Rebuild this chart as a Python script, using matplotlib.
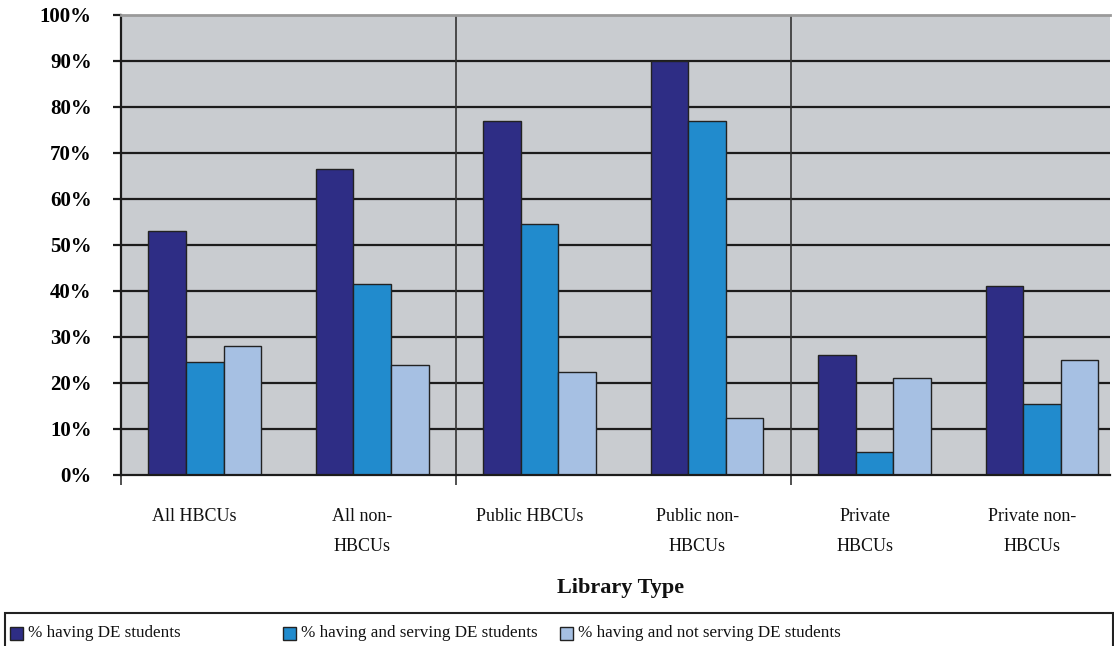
import numpy as np
import matplotlib
matplotlib.use("Agg")
import matplotlib.pyplot as plt
from matplotlib.patches import Rectangle
import matplotlib.transforms as mtransforms

categories = ["All HBCUs", "All non-\nHBCUs", "Public HBCUs", "Public non-\nHBCUs",
              "Private\nHBCUs", "Private non-\nHBCUs"]
series_names = ["% having DE students", "% having and serving DE students",
                "% having and not serving DE students"]
having = [53, 66.5, 77, 90, 26, 41]
serving = [24.5, 41.5, 54.5, 77, 5, 15.5]
not_serving = [28, 24, 22.5, 12.5, 21, 25]
yticks = [0, 10, 20, 30, 40, 50, 60, 70, 80, 90, 100]
ytick_labels = [f"{v}%" for v in yticks]
dividers = [1.5, 3.5]

colors = ["#2E2D85", "#218BCD", "#A6C0E3"]
serif = ["Liberation Serif", "DejaVu Serif"]

fig = plt.figure(figsize=(11.14, 6.46), dpi=100)
ax = fig.add_axes([121 / 1114, (646 - 475) / 646, (1110 - 121) / 1114, 460 / 646])
ax.set_facecolor("#C9CCD0")

x = np.arange(len(categories))
w = 0.224
for i, (vals, c) in enumerate(zip([having, serving, not_serving], colors)):
    ax.bar(x + (i - 1) * w, vals, width=w, color=c, edgecolor="#222222",
           linewidth=1.0, zorder=3)

ax.set_ylim(0, 100)
ax.set_xlim(-0.5, 5.405)
for v in yticks[1:-1]:
    ax.axhline(v, color="#1c1c1c", linewidth=1.6, zorder=1)
for d in dividers:
    ax.axvline(d, color="#333333", linewidth=1.2, zorder=1)

ax.set_yticks(yticks)
ax.set_yticklabels(ytick_labels, fontfamily=serif, fontweight="bold", fontsize=15)
ax.tick_params(axis="y", length=6, width=1.6, color="#1c1c1c", pad=15)

ax.set_xticks([-0.5] + dividers)
ax.set_xticklabels([])
ax.tick_params(axis="x", length=7, width=1.2, color="#333333")

# category labels
offset = mtransforms.ScaledTranslation(-10 / 100, 0, fig.dpi_scale_trans)
for xi, lab in zip(x, categories):
    ax.text(xi, -0.072, lab, transform=mtransforms.blended_transform_factory(
        ax.transData, ax.transAxes) + offset, ha="center", va="top",
        fontfamily=serif, fontsize=13, linespacing=2.0, color="#111111")

ax.text(0.505, -0.225, "Library Type", transform=ax.transAxes, ha="center",
        va="top", fontfamily=serif, fontweight="bold", fontsize=16,
        color="#111111")

for s in ["left", "bottom"]:
    ax.spines[s].set_color("#1c1c1c")
    ax.spines[s].set_linewidth(1.6)
ax.spines["top"].set_color("#9a9a9a")
ax.spines["top"].set_linewidth(2.0)
ax.spines["right"].set_visible(False)
ax.spines["bottom"].set_zorder(4)

# legend box
fig.patches.append(Rectangle((5 / 1114, -0.05), 1108 / 1114, (646 - 613) / 646 + 0.05,
                             transform=fig.transFigure, facecolor="white",
                             edgecolor="#222222", linewidth=1.5, zorder=0))
leg_x = [10, 283, 560]
for lx, name, c in zip(leg_x, series_names, colors):
    fig.patches.append(Rectangle((lx / 1114, (646 - 640) / 646), 13 / 1114, 13 / 646,
                                 transform=fig.transFigure, facecolor=c,
                                 edgecolor="#222222", linewidth=1.0, zorder=2))
    fig.text((lx + 18) / 1114, (646 - 633) / 646, name, ha="left", va="center",
             fontfamily=serif, fontsize=12.3, color="#111111")

fig.savefig("out.png", dpi=100, facecolor="white")
